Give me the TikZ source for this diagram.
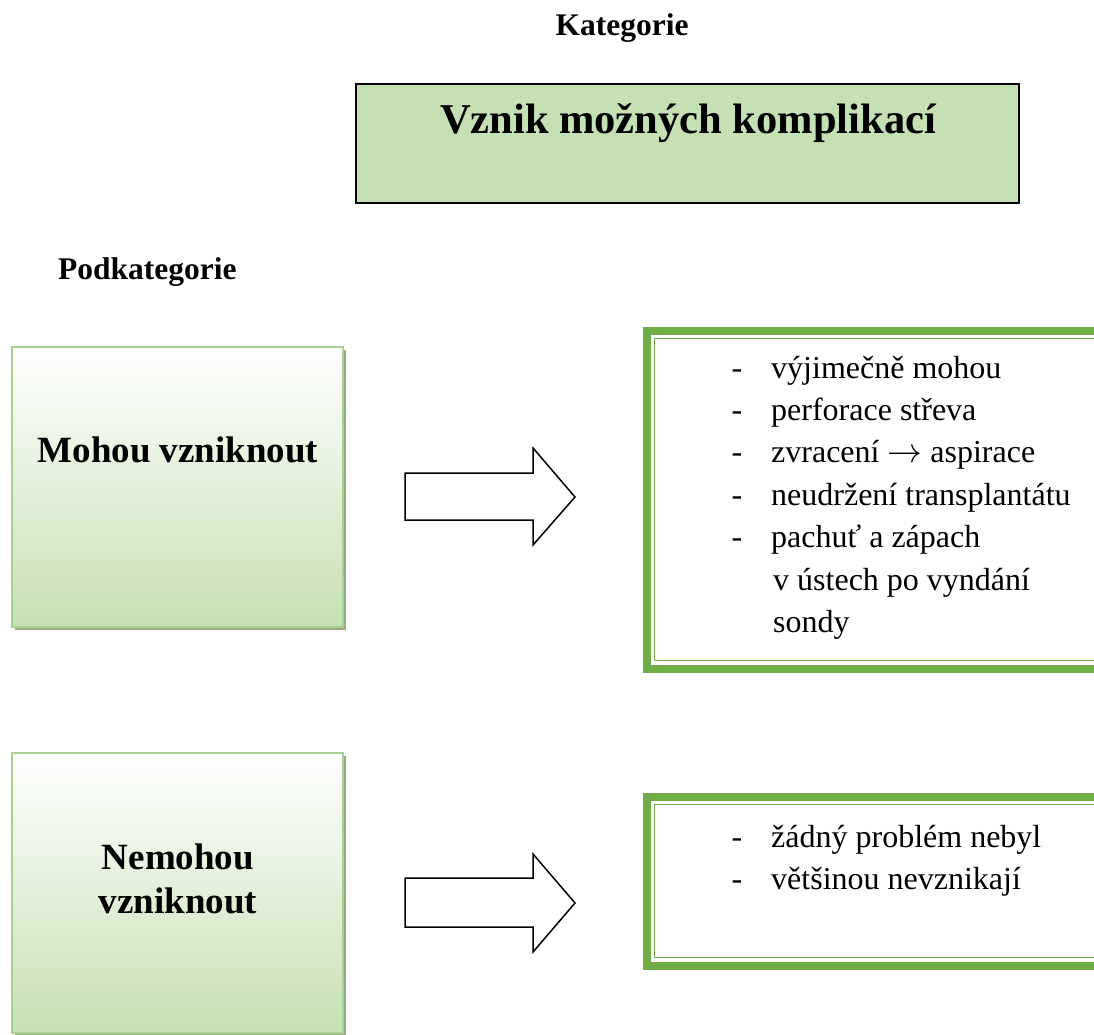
\documentclass[tikz,border=0pt]{standalone}
\usepackage{fontspec}
\setmainfont{Liberation Serif}
\definecolor{boxgreen}{HTML}{C5E0B4}
\definecolor{edgegreen}{HTML}{A9D18E}
\definecolor{deepgreen}{HTML}{70AD47}
\definecolor{shadowgreen}{HTML}{98AB8A}
\newcommand{\textarrowlong}{\smash{\scalebox{1.4}{$\rightarrow$}}}
\tikzset{
  headtext/.style={anchor=base, inner sep=0pt, font=\fontsize{31.5}{36}\selectfont\bfseries},
  titlebox/.style={draw=black, line width=1.5pt, fill=boxgreen, inner sep=0pt,
    minimum width=663pt, minimum height=119pt},
  titletext/.style={anchor=base, inner sep=0pt, font=\fontsize{42.5}{48}\selectfont\bfseries},
  subbox/.style={draw=edgegreen, line width=1.6pt, top color=white, bottom color=boxgreen,
    middle color=white!50!boxgreen, inner sep=0pt, minimum width=331pt, minimum height=280pt},
  subtext/.style={anchor=base, inner sep=0pt, font=\fontsize{37}{44}\selectfont\bfseries},
  shadowfill/.style={fill=shadowgreen},
  outerframe/.style={draw=deepgreen, line width=8pt},
  innerframe/.style={draw=deepgreen, line width=1.8pt},
  dashmark/.style={anchor=base, inner sep=0pt, font=\fontsize{32}{38}\selectfont},
  itemtext/.style={anchor=base west, inner sep=0pt, font=\fontsize{32}{38}\selectfont},
  blockarrow/.style={draw=black, line width=1.5pt, fill=white, line join=miter}
}
\begin{document}
\begin{tikzpicture}[x=1pt, y=-1pt]
\useasboundingbox (0,0) rectangle (1094,1034);

% headings
\node[headtext] (kat) at (622,35) {Kategorie};
\node[headtext, anchor=base west] (podkat) at (58,279) {Podkategorie};

% category box
\node[titlebox] (title) at (687.5,143.5) {};
\node[titletext] (titlelabel) at (688,133) {Vznik možných komplikací};

% subcategory boxes with shadow
\fill[shadowfill] (15,350) rectangle (346,630);
\node[subbox] (sub1) at (177.5,487) {};
\node[subtext] (sub1label) at (178,462) {Mohou vzniknout};

\fill[shadowfill] (15,756) rectangle (346,1036);
\node[subbox] (sub2) at (177.5,893) {};
\node[subtext] (sub2labela) at (178,869) {Nemohou};
\node[subtext] (sub2labelb) at (178,913) {vzniknout};

% block arrows
\draw[blockarrow] (405,473) -- (533,473) -- (533,448) -- (575,497) -- (533,545)
  -- (533,520) -- (405,520) -- cycle;
\draw[blockarrow] (405,878) -- (533,878) -- (533,854) -- (575,903) -- (533,952)
  -- (533,927) -- (405,927) -- cycle;

% detail frames (thick-thin border)
\draw[outerframe] (647,331) rectangle (1130,669);
\draw[innerframe] (654.5,338.5) rectangle (1130,660.5);
\coordinate (list1) at (647,331);

\draw[outerframe] (647,797) rectangle (1130,966);
\draw[innerframe] (654.5,804.5) rectangle (1130,957.5);
\coordinate (list2) at (647,797);

% items of the first frame
\node[dashmark] (d11) at (737,378) {-};
\node[itemtext] (i11) at (771,378) {výjimečně mohou};
\node[dashmark] (d12) at (737,420) {-};
\node[itemtext] (i12) at (771,420) {perforace střeva};
\node[dashmark] (d13) at (737,462.5) {-};
\node[itemtext] (i13) at (771,462.5) {zvracení \textarrowlong{} aspirace};
\node[dashmark] (d14) at (737,505) {-};
\node[itemtext] (i14) at (771,505) {neudržení transplantátu};
\node[dashmark] (d15) at (737,547) {-};
\node[itemtext] (i15) at (771,547) {pachuť a zápach};
\node[itemtext] (i16) at (773,590) {v ústech po vyndání};
\node[itemtext] (i17) at (773,632) {sondy};

% items of the second frame
\node[dashmark] (d21) at (737,847) {-};
\node[itemtext] (i21) at (771,847) {žádný problém nebyl};
\node[dashmark] (d22) at (737,889) {-};
\node[itemtext] (i22) at (771,889) {většinou nevznikají};
\end{tikzpicture}
\end{document}
